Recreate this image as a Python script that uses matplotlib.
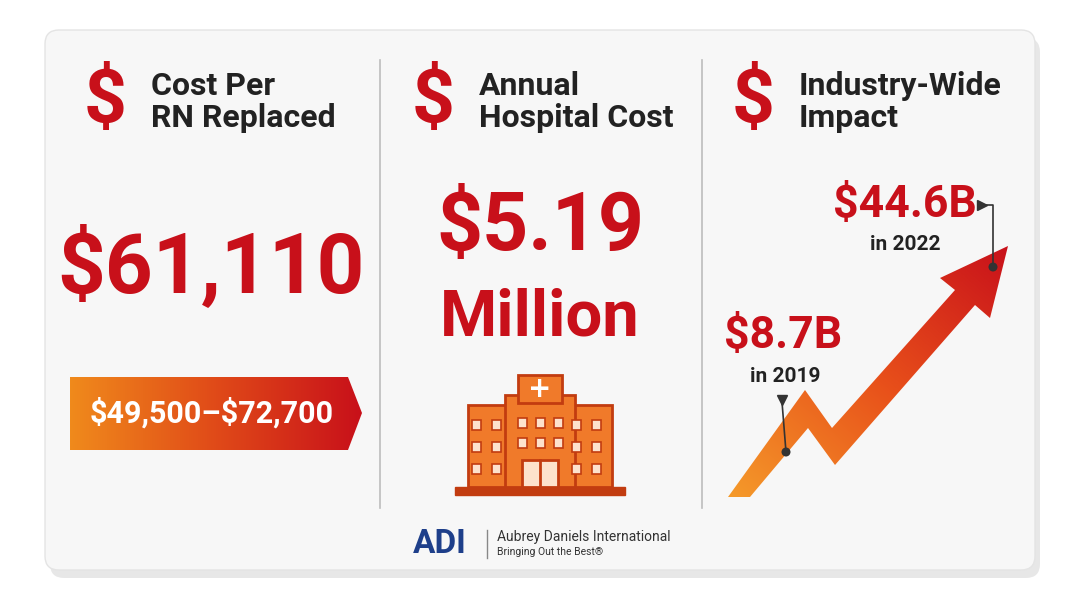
import numpy as np
import matplotlib.pyplot as plt
from matplotlib.patches import FancyBboxPatch, Polygon, Rectangle, Circle
from matplotlib.colors import LinearSegmentedColormap

# data
titles = ["Cost Per\nRN Replaced", "Annual\nHospital Cost", "Industry-Wide\nImpact"]
cost_per_rn = "$61,110"
cost_range = "$49,500\u2013$72,700"
hospital_cost = ["$5.19", "Million"]
years = [2019, 2022]
impact_b = [8.7, 44.6]

RED = "#c8101a"
FONT = ["Liberation Sans Narrow", "Roboto", "DejaVu Sans"]

fig = plt.figure(figsize=(10.8, 6.03), dpi=100)
ax = fig.add_axes([0, 0, 1, 1])
ax.set_xlim(0, 1080)
ax.set_ylim(603, 0)
ax.axis("off")
fig.patch.set_facecolor("white")


def txt(x, y, s, size, color, **kw):
    kw.setdefault("weight", "bold")
    kw.setdefault("ha", "center")
    return ax.text(x, y, s, fontsize=size, color=color, family=FONT, va="center",
                   parse_math=False, **kw)


# card with shadow
ax.add_patch(FancyBboxPatch((50, 38), 990, 540, boxstyle="round,pad=0,rounding_size=14",
                            fc="#d8d8d8", ec="none", alpha=0.6))
ax.add_patch(FancyBboxPatch((45, 30), 990, 540, boxstyle="round,pad=0,rounding_size=14",
                            fc="#f7f7f7", ec="#e4e4e4", lw=1))
for x in [380, 702]:
    ax.plot([x, x], [60, 508], color="#bdbdbd", lw=1.2)

# headers
for cx, t in zip([105, 433, 753], titles):
    txt(cx, 102, "$", 54, RED)
    txt(cx + 46, 102, t, 23, "#222222", ha="left", linespacing=1.05)

# panel 1
txt(211, 268, cost_per_rn, 60, RED)
rib = Polygon([(70, 377), (348, 377), (362, 413), (348, 450), (70, 450)], closed=True,
              fc="none", ec="none")
ax.add_patch(rib)
grad = np.linspace(0, 1, 256).reshape(1, -1)
cm = LinearSegmentedColormap.from_list("o", ["#f08a1c", "#e04a18", "#c8101a"])
im = ax.imshow(grad, extent=(70, 362, 450, 377), cmap=cm, aspect="auto", zorder=2)
im.set_clip_path(rib)
txt(212, 413, cost_range, 22, "white", zorder=3)

# panel 2
txt(540, 228, hospital_cost[0], 58, RED)
txt(540, 318, hospital_cost[1], 47, RED)
OR, DK = "#f07a2a", "#c23c10"
ax.add_patch(Rectangle((455, 487), 170, 8, fc=DK, ec=DK))
for x0, y0, w, h in [(468, 405, 45, 82), (567, 405, 45, 82), (505, 395, 70, 92)]:
    ax.add_patch(Rectangle((x0, y0), w, h, fc=OR, ec=DK, lw=2))
ax.add_patch(Rectangle((518, 375), 44, 28, fc=OR, ec=DK, lw=2))
ax.text(540, 389, "+", fontsize=20, color="white", weight="bold", ha="center", va="center")
for x0 in [476, 496, 576, 596]:
    for y0 in [420, 442, 464]:
        ax.add_patch(Rectangle((x0 - 4, y0), 9, 10, fc="#fde2cc", ec=DK, lw=1.2))
for x0 in [518, 536, 554]:
    for y0 in [418, 438]:
        ax.add_patch(Rectangle((x0, y0), 9, 10, fc="#fde2cc", ec=DK, lw=1.2))
ax.add_patch(Rectangle((522, 460), 36, 27, fc="#fde2cc", ec=DK, lw=2))
ax.plot([540, 540], [460, 487], color=DK, lw=2)

# panel 3 arrow
arrow = Polygon([(728, 497), (805, 390), (832, 428), (955, 290), (940, 278), (1008, 246),
                 (990, 318), (975, 305), (835, 465), (808, 428), (750, 497)], closed=True,
                fc="none", ec="none")
ax.add_patch(arrow)
cm2 = LinearSegmentedColormap.from_list("a", ["#f59a2a", "#e8501a", "#c8101a"])
xx = np.linspace(0, 1, 256)
g2 = (xx[None, :] + xx[::-1, None]) / 2
im2 = ax.imshow(g2, extent=(728, 1010, 497, 245), cmap=cm2, aspect="auto", zorder=2)
im2.set_clip_path(arrow)

labels = [f"${v}B" for v in impact_b]
txt(783, 336, labels[0], 32, RED)
txt(785, 376, f"in {years[0]}", 15, "#222222")
txt(905, 205, labels[1], 32, RED)
txt(905, 245, f"in {years[1]}", 15, "#222222")
ax.plot([782, 786], [402, 452], color="#333333", lw=1.2, zorder=4)
ax.plot([782], [400], marker="v", color="#333333", ms=7, zorder=4)
ax.add_patch(Circle((786, 452), 4.5, fc="#333333", zorder=4))
ax.plot([982, 993, 993], [205, 205, 267], color="#333333", lw=1.2, zorder=4)
ax.plot([982], [205], marker=">", color="#333333", ms=7, zorder=4)
ax.add_patch(Circle((993, 267), 4.5, fc="#333333", zorder=4))

# logo
txt(440, 544, "ADI", 24, "#1e3f8a")
ax.plot([487, 487], [530, 558], color="#888888", lw=1)
txt(497, 537, "Aubrey Daniels International", 10, "#333333", weight="normal", ha="left")
txt(497, 552, "Bringing Out the Best\u00ae", 7.5, "#333333", weight="normal", ha="left")

fig.savefig("out.png", dpi=100)
